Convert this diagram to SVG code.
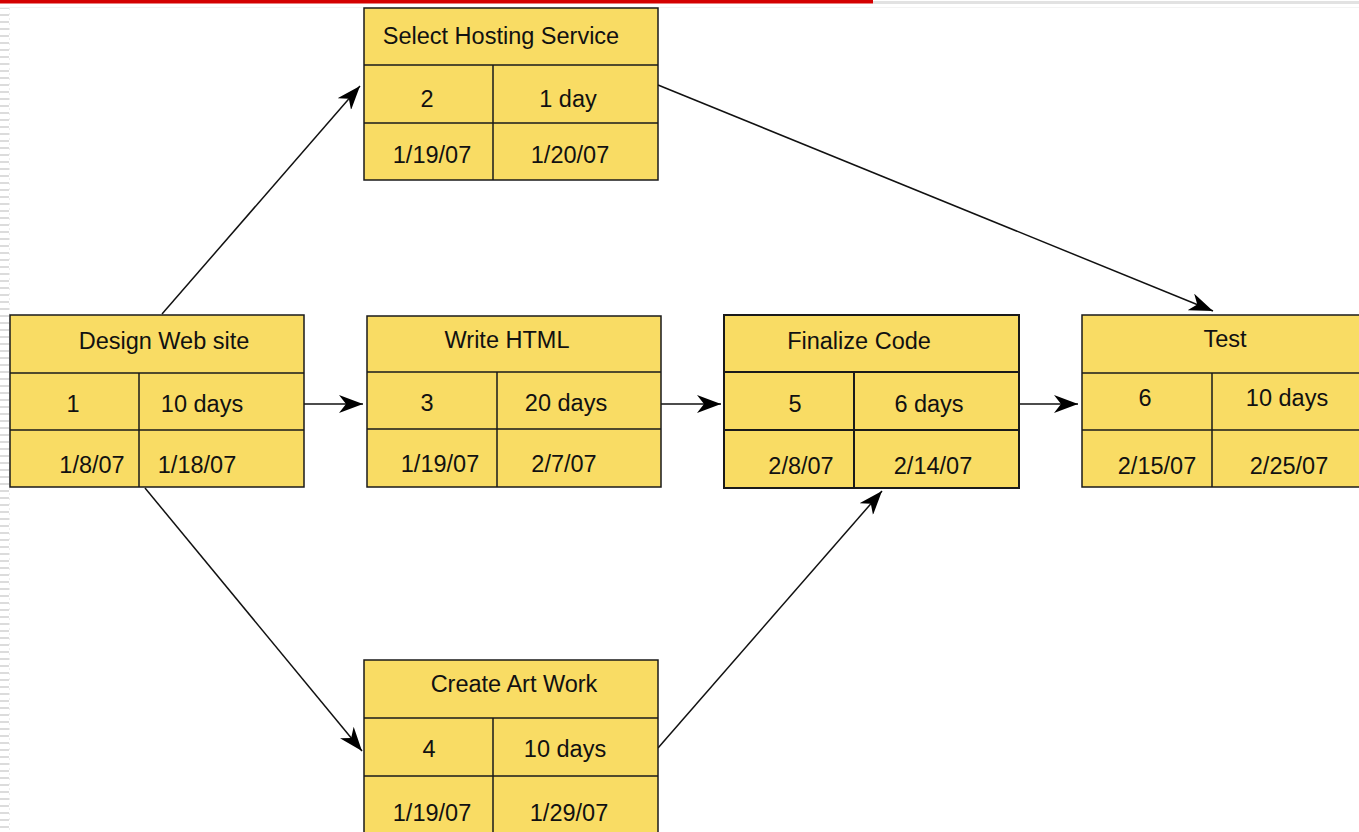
<svg xmlns="http://www.w3.org/2000/svg" width="1359" height="832" viewBox="0 0 1359 832">
<style>
.box{fill:#F9DC64;stroke:#1a1a1a;stroke-width:1.5}
.div{stroke:#1a1a1a;stroke-width:1.5;fill:none}
.t{font-family:"Liberation Sans",Arial,sans-serif;font-size:23.5px;fill:#111;text-anchor:middle}
.c{stroke:#111;stroke-width:1.5;fill:none;marker-end:url(#arr)}
</style>
<defs>
<marker id="arr" viewBox="0 0 24 18" refX="24" refY="9" markerWidth="24" markerHeight="18" orient="auto" markerUnits="userSpaceOnUse">
<path d="M0,0 L24,9 L0,18 L7,9 Z" fill="#000"/>
</marker>
<pattern id="stripes" width="10" height="7" patternUnits="userSpaceOnUse">
<rect x="0" y="0" width="9" height="2" fill="#dcdcdc"/>
</pattern>
</defs>
<rect width="1359" height="832" fill="#fff"/>
<rect x="0" y="0" width="873" height="3.5" fill="#D40000"/>
<rect x="873" y="1" width="486" height="3" fill="#e2e2e2"/>
<rect x="0" y="7" width="1359" height="1" fill="#f3f3f3"/>
<rect x="0" y="8" width="9" height="824" fill="url(#stripes)"/>
<line x1="9.5" y1="8" x2="9.5" y2="832" stroke="#eeeeee" stroke-width="1" stroke-dasharray="2,3"/>

<g id="connectors">
<line class="c" x1="162" y1="314" x2="360" y2="86"/>
<line class="c" x1="304" y1="404" x2="363" y2="404"/>
<line class="c" x1="661" y1="404" x2="721" y2="404"/>
<line class="c" x1="1019" y1="404" x2="1078" y2="404"/>
<line class="c" x1="658" y1="85" x2="1213" y2="311"/>
<line class="c" x1="145" y1="488" x2="362" y2="751"/>
<line class="c" x1="658" y1="748" x2="882" y2="491"/>
</g>

<g id="node-design">
<rect class="box" x="10" y="315" width="294" height="172"/>
<path class="div" d="M10,373 H304 M10,430 H304 M139,373 V487"/>
<text class="t" x="164" y="349">Design Web site</text>
<text class="t" x="73" y="412">1</text>
<text class="t" x="202" y="412">10 days</text>
<text class="t" x="92" y="473">1/8/07</text>
<text class="t" x="197" y="473">1/18/07</text>
</g>

<g id="node-hosting">
<rect class="box" x="364" y="8" width="294" height="172"/>
<path class="div" d="M364,65 H658 M364,123 H658 M493,65 V180"/>
<text class="t" x="501" y="44">Select Hosting Service</text>
<text class="t" x="427" y="107">2</text>
<text class="t" x="568" y="107">1 day</text>
<text class="t" x="432" y="163">1/19/07</text>
<text class="t" x="570" y="163">1/20/07</text>
</g>

<g id="node-html">
<rect class="box" x="367" y="316" width="294" height="171"/>
<path class="div" d="M367,372 H661 M367,429 H661 M497,372 V487"/>
<text class="t" x="507" y="348">Write HTML</text>
<text class="t" x="427" y="411">3</text>
<text class="t" x="566" y="411">20 days</text>
<text class="t" x="440" y="472">1/19/07</text>
<text class="t" x="564" y="472">2/7/07</text>
</g>

<g id="node-art">
<rect class="box" x="364" y="660" width="294" height="180"/>
<path class="div" d="M364,718 H658 M364,776 H658 M493,718 V840"/>
<text class="t" x="514" y="692">Create Art Work</text>
<text class="t" x="429" y="757">4</text>
<text class="t" x="565" y="757">10 days</text>
<text class="t" x="432" y="821">1/19/07</text>
<text class="t" x="569" y="821">1/29/07</text>
</g>

<g id="node-finalize">
<rect class="box" x="724" y="315" width="295" height="173" style="stroke-width:2"/>
<path class="div" d="M724,372 H1019 M724,430 H1019 M854,372 V488" style="stroke-width:2"/>
<text class="t" x="859" y="349">Finalize Code</text>
<text class="t" x="795" y="412">5</text>
<text class="t" x="929" y="412">6 days</text>
<text class="t" x="801" y="474">2/8/07</text>
<text class="t" x="933" y="474">2/14/07</text>
</g>

<g id="node-test">
<rect class="box" x="1082" y="315" width="290" height="172"/>
<path class="div" d="M1082,373 H1372 M1082,430 H1372 M1212,373 V487"/>
<text class="t" x="1225" y="347">Test</text>
<text class="t" x="1145" y="406">6</text>
<text class="t" x="1287" y="406">10 days</text>
<text class="t" x="1157" y="474">2/15/07</text>
<text class="t" x="1289" y="474">2/25/07</text>
</g>
</svg>
